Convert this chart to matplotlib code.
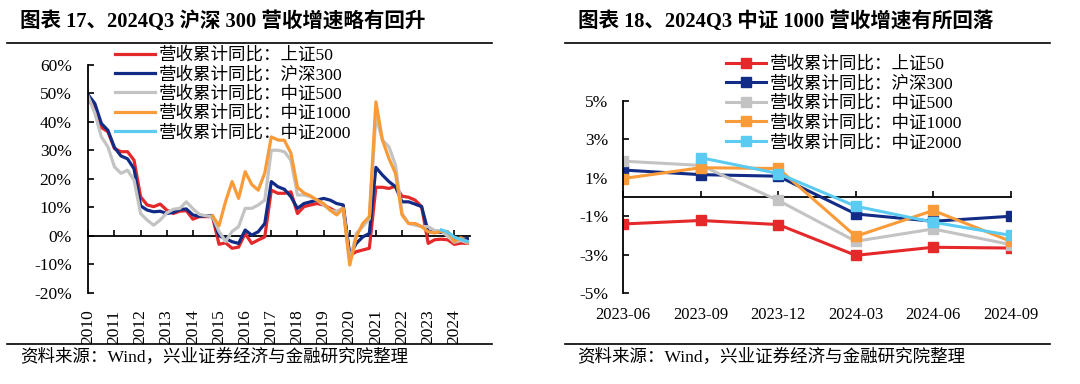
import matplotlib
matplotlib.use('Agg')
import matplotlib.pyplot as plt
from matplotlib.lines import Line2D
import numpy as np

plt.rcParams['font.family'] = ['Liberation Serif', 'Noto Sans CJK SC']

# ---------------- data: left chart (quarterly, 2010Q1 .. 2024Q3) ----------------
years = [str(y) for y in range(2010, 2025)]
sz50 = [47.6, 45.0, 38.0, 36.5, 30.6, 29.5, 29.5, 26.5,
        13.7, 10.8, 10.2, 11.1, 9.0, 7.8, 8.6, 8.8,
        5.8, 6.7, 6.7, 6.7, -3.0, -2.5, -4.4, -4.0,
        0.8, -2.7, -1.5, -0.4, 16.0, 14.9, 14.9, 15.4,
        7.8, 10.2, 10.8, 11.3, 10.8, 9.6, 8.4, 9.6,
        -7.0, -5.6, -5.0, -4.4, 17.0, 17.0, 16.6, 17.4,
        13.9, 13.5, 12.5, 10.2, -2.7, -1.40, -1.22, -1.43,
        -3.03, -2.61, -2.65]
hs300 = [49.4, 46.4, 39.4, 37.0, 31.0, 28.0, 27.0, 23.5,
         10.5, 9.0, 8.4, 8.6, 7.8, 8.2, 9.2, 9.4,
         7.3, 6.8, 7.0, 7.0, 0.0, -1.0, -2.1, -2.7,
         2.0, 0.2, 1.4, 4.3, 19.0, 17.2, 16.3, 13.7,
         9.6, 11.3, 11.9, 12.5, 13.1, 12.5, 11.3, 10.8,
         -6.8, -2.7, -0.4, 0.8, 24.0, 21.3, 19.0, 17.2,
         11.9, 11.9, 11.1, 10.2, 1.4, 1.40, 1.16, 1.08,
         -0.88, -1.26, -1.00]
zz500 = [48.8, 43.0, 34.7, 31.2, 24.2, 21.9, 23.0, 19.5,
         7.8, 5.5, 3.7, 5.5, 8.0, 9.3, 9.6, 11.9,
         9.5, 7.5, 7.0, 6.7, 1.5, -2.0, 1.5, 3.2,
         9.6, 9.6, 10.8, 12.5, 30.0, 30.0, 29.5, 26.5,
         14.3, 14.3, 13.7, 12.5, 10.8, 9.0, 8.4, 9.6,
         -9.0, 0.8, 3.2, 6.0, 41.8, 33.6, 31.2, 24.8,
         7.8, 4.3, 3.7, 3.2, 3.2, 1.86, 1.64, -0.18,
         -2.30, -1.66, -2.47]
zz1000 = [None] * 19 + [
         7.0, 3.5, 12.0, 19.0, 13.1,
         22.5, 18.0, 16.0, 22.0, 34.7, 33.6, 33.5, 29.0,
         17.0, 15.0, 14.0, 12.5, 11.3, 9.0, 7.3, 9.6,
         -10.3, -0.4, 4.3, 6.7, 47.0, 33.6, 27.1, 21.9,
         7.3, 4.3, 4.3, 3.2, 1.4, 0.96, 1.52, 1.48,
         -2.04, -0.70, -2.30]
zz2000 = [None] * 54 + [2.04, 1.22, -0.48, -1.31, -1.99]

# ---------------- data: right chart ----------------
dates_r = ['2023-06', '2023-09', '2023-12', '2024-03', '2024-06', '2024-09']
r_sz50 = [-1.40, -1.22, -1.43, -3.03, -2.61, -2.65]
r_hs300 = [1.40, 1.16, 1.08, -0.88, -1.26, -1.00]
r_zz500 = [1.86, 1.64, -0.18, -2.30, -1.66, -2.47]
r_zz1000 = [0.96, 1.52, 1.48, -2.04, -0.70, -2.30]
r_zz2000 = [None, 2.04, 1.22, -0.48, -1.31, -1.99]

labels = ['营收累计同比：上证50', '营收累计同比：沪深300', '营收累计同比：中证500',
          '营收累计同比：中证1000', '营收累计同比：中证2000']
colors = ['#E5282A', '#112B86', '#C3C3C3', '#F99B38', '#5CCBF2']

W, H = 1080, 384
fig = plt.figure(figsize=(W / 100, H / 100), dpi=100)


def fx(px):
    return px / W


def fy(py):
    return 1 - py / H


def arr(v):
    return np.array([np.nan if a is None else a for a in v], dtype=float)


# ---------------- left chart ----------------
ax1 = fig.add_axes([fx(88.3), fy(292.7), fx(470) - fx(88.3), fy(64.8) - fy(292.7)])
left_series = [sz50, hs300, zz500, zz1000, zz2000]
xk = np.arange(len(sz50))
handles = []
for s, c, lab in zip(left_series, colors, labels):
    h, = ax1.plot(xk, arr(s), color=c, lw=2.3, label=lab, solid_joinstyle='round')
    handles.append(h)
ax1.set_xlim(0, 58.4)
ax1.set_ylim(-20, 60)
yt = np.arange(-20, 61, 10)
ax1.set_yticks(yt)
ax1.set_yticklabels([f'{v}%' for v in yt])
for sp in ['top', 'right', 'bottom']:
    ax1.spines[sp].set_visible(False)
ax1.spines['left'].set_linewidth(1.3)
ax1.tick_params(axis='y', direction='in', length=4, width=1.2, pad=12, labelsize=12.5)
ax1.set_xticks(np.arange(0, 59, 4))
ax1.set_xticklabels(years, rotation=90)
ax1.tick_params(axis='x', length=0, pad=12, labelsize=12.5)
sec1 = ax1.secondary_xaxis(0.25)
sec1.set_xticks(np.arange(0, 59, 4))
sec1.set_xticklabels([])
sec1.tick_params(axis='x', direction='in', length=4, width=1.2,
                 labelbottom=False, labeltop=False)
sec1.spines['bottom'].set_linewidth(1.3)
ax1.legend(handles=handles, loc='upper left', bbox_to_anchor=(fx(115), fy(47)),
           bbox_transform=fig.transFigure, frameon=False, borderpad=0, borderaxespad=0,
           handlelength=2.3, handletextpad=0.2, labelspacing=0.16, fontsize=12.6)

# ---------------- right chart ----------------
ax2 = fig.add_axes([fx(623.3), fy(293.3), fx(1010.7) - fx(623.3), fy(100.7) - fy(293.3)])
right_series = [r_sz50, r_hs300, r_zz500, r_zz1000, r_zz2000]
xr = np.arange(len(dates_r))
handles2 = []
for s, c, lab in zip(right_series, colors, labels):
    h, = ax2.plot(xr, arr(s), color=c, lw=2.2, marker='s', markersize=7.5, label=lab)
    handles2.append(h)
ax2.set_xlim(0, 5)
ax2.set_ylim(-5, 5)
yt2 = [-5, -3, -1, 1, 3, 5]
ax2.set_yticks(yt2)
ax2.set_yticklabels([f'{v}%' for v in yt2])
for sp in ['top', 'right', 'bottom']:
    ax2.spines[sp].set_visible(False)
ax2.spines['left'].set_linewidth(1.3)
ax2.tick_params(axis='y', direction='in', length=4, width=1.2, pad=11, labelsize=12.5)
ax2.set_xticks(xr)
ax2.set_xticklabels(dates_r)
ax2.tick_params(axis='x', length=0, pad=10, labelsize=12)
sec2 = ax2.secondary_xaxis(0.4999)
sec2.set_xticks(xr)
sec2.set_xticklabels([])
sec2.tick_params(axis='x', direction='in', length=4, width=1.2,
                 labelbottom=False, labeltop=False)
sec2.spines['bottom'].set_linewidth(1.3)
ax2.legend(handles=handles2, loc='upper left', bbox_to_anchor=(fx(726), fy(56)),
           bbox_transform=fig.transFigure, frameon=False, borderpad=0, borderaxespad=0,
           handlelength=2.3, handletextpad=0.2, labelspacing=0.17, fontsize=12.6)

# ---------------- titles, rules, sources ----------------
fig.text(fx(20), fy(22), '图表 17、2024Q3 沪深 300 营收增速略有回升', fontsize=14.8,
         fontweight='bold', va='center', ha='left')
fig.text(fx(578), fy(22), '图表 18、2024Q3 中证 1000 营收增速有所回落', fontsize=14.8,
         fontweight='bold', va='center', ha='left')
for (x0, x1) in [(7, 492), (565, 1050)]:
    for yy in (43, 344):
        fig.add_artist(Line2D([fx(x0), fx(x1)], [fy(yy), fy(yy)], transform=fig.transFigure,
                              color='black', lw=1.2))
fig.text(fx(20), fy(357), '资料来源：Wind，兴业证券经济与金融研究院整理', fontsize=12.6,
         va='center', ha='left')
fig.text(fx(577), fy(357), '资料来源：Wind，兴业证券经济与金融研究院整理', fontsize=12.6,
         va='center', ha='left')

fig.savefig('out.png', dpi=100)
